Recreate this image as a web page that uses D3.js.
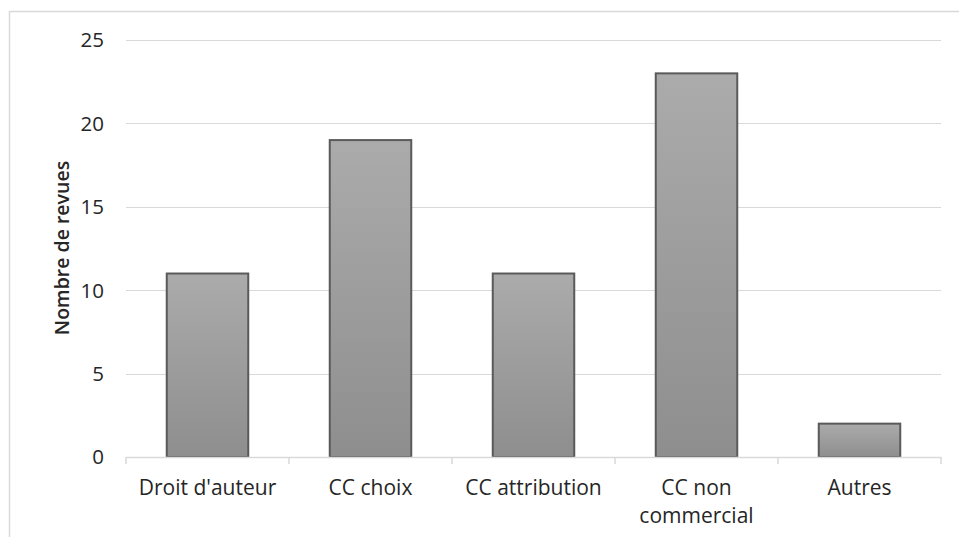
<!DOCTYPE html>
<html><head><meta charset="utf-8">
<script src="https://cdn.jsdelivr.net/npm/d3@7"></script>
<style>body{margin:0;background:#fff;} svg{display:block;} text{font-family:"Open Sans",sans-serif;}</style>
</head><body>
<svg id="c" width="959" height="537"></svg>
<script>
const categories = ["Droit d'auteur", "CC choix", "CC attribution", "CC non commercial", "Autres"];
const catLines = [["Droit d'auteur"], ["CC choix"], ["CC attribution"], ["CC non", "commercial"], ["Autres"]];
const values = [11, 19, 11, 23, 2];
const yTicks = [0, 5, 10, 15, 20, 25];
const yTitle = "Nombre de revues";

const svg = d3.select("#c");
const m = {l:126, r:941, t:40, b:457};
svg.append("rect").attr("x",9.5).attr("y",11.5).attr("width",1000).attr("height",600)
  .attr("fill","none").attr("stroke","#d9d9d9").attr("stroke-width",1.5);

const x = d3.scaleBand().domain(categories).range([m.l,m.r]).paddingInner(0.5).paddingOuter(0.25);
const xb = d3.scaleBand().domain(categories).range([m.l,m.r]);
const y = d3.scaleLinear().domain([0,25]).range([m.b,m.t]);

const defs = svg.append("defs");
const g = defs.append("linearGradient").attr("id","gr").attr("x1",0).attr("y1",0).attr("x2",0).attr("y2",1);
g.append("stop").attr("offset","0%").attr("stop-color","#ababab");
g.append("stop").attr("offset","100%").attr("stop-color","#8e8e8e");

svg.append("g").selectAll("line").data(yTicks.filter(d=>d>0)).join("line")
  .attr("x1",m.l).attr("x2",m.r).attr("y1",d=>Math.round(y(d))+0.5).attr("y2",d=>Math.round(y(d))+0.5)
  .attr("stroke","#d9d9d9").attr("stroke-width",1);

svg.append("g").selectAll("text").data(yTicks).join("text")
  .attr("x",104).attr("y",d=>y(d)).attr("dy","0.36em").attr("text-anchor","end")
  .attr("font-size",20.5).attr("fill","#262626").text(d=>d);

svg.append("g").selectAll("rect").data(values).join("rect")
  .attr("x",(d,i)=>x(categories[i])).attr("width",x.bandwidth())
  .attr("y",d=>y(d)).attr("height",d=>y(0)-y(d))
  .attr("fill","url(#gr)").attr("stroke","#5a5a5a").attr("stroke-width",2);

svg.append("line").attr("x1",m.l).attr("x2",m.r).attr("y1",m.b+0.5).attr("y2",m.b+0.5)
  .attr("stroke","#d9d9d9").attr("stroke-width",1.5);
const bounds = categories.map(c=>xb(c)).concat([m.r]);
svg.append("g").selectAll("line").data(bounds).join("line")
  .attr("x1",d=>d).attr("x2",d=>d).attr("y1",m.b).attr("y2",m.b+7)
  .attr("stroke","#d9d9d9").attr("stroke-width",1.5);

const lab = svg.append("g").selectAll("text").data(catLines).join("text")
  .attr("x",(d,i)=>xb(categories[i])+xb.bandwidth()/2).attr("y",495)
  .attr("text-anchor","middle").attr("font-size",21).attr("fill","#262626");
lab.selectAll("tspan").data(d=>d).join("tspan")
  .attr("x",function(){return this.parentNode.getAttribute("x");})
  .attr("dy",(d,i)=>i===0?0:28).text(d=>d);

svg.append("text").attr("transform","translate(62,248) rotate(-90)")
  .attr("text-anchor","middle").attr("dy","0.35em").attr("font-size",19.5).attr("font-weight",600)
  .attr("fill","#262626").text(yTitle);
</script>
</body></html>
